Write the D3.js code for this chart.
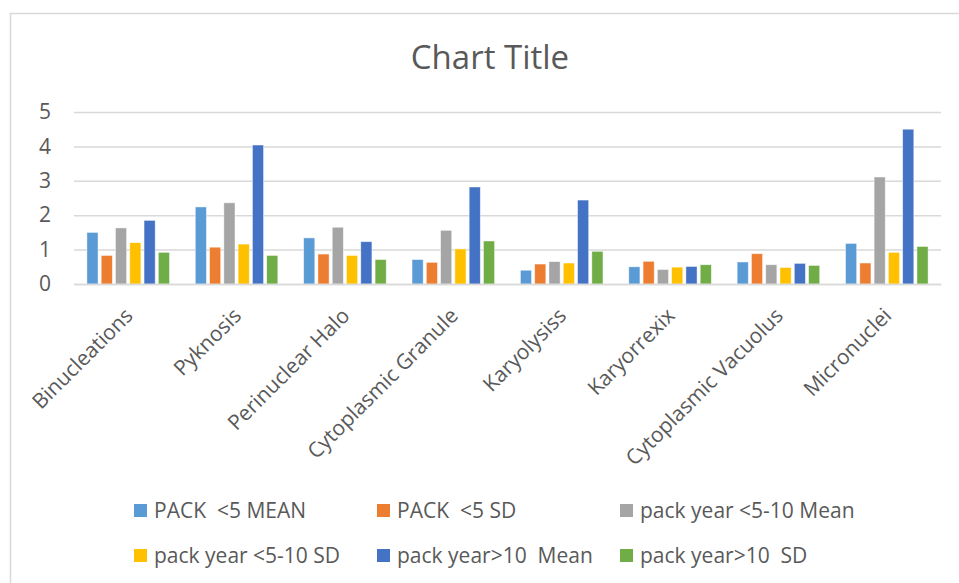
<!DOCTYPE html>
<html><head><meta charset="utf-8">
<script src="https://cdn.jsdelivr.net/npm/d3@7"></script>
<style>body{margin:0;background:#fff}svg{display:block;font-family:"Open Sans",sans-serif}</style>
</head><body><svg id="c" width="959" height="583"></svg>
<script>
const categories = ["Binucleations","Pyknosis","Perinuclear Halo","Cytoplasmic Granule","Karyolysiss","Karyorrexix","Cytoplasmic Vacuolus","Micronuclei"];
const seriesNames = ["PACK  <5 MEAN","PACK  <5 SD","pack year <5-10 Mean","pack year <5-10 SD","pack year>10  Mean","pack year>10  SD"];
const colors = ["#5B9BD5","#ED7D31","#A5A5A5","#FFC000","#4472C4","#70AD47"];
const packLt5Mean   = [1.50,2.24,1.34,0.71,0.40,0.50,0.64,1.18];
const packLt5SD     = [0.83,1.07,0.87,0.63,0.58,0.66,0.88,0.61];
const pack5to10Mean = [1.63,2.36,1.65,1.56,0.65,0.42,0.56,3.11];
const pack5to10SD   = [1.20,1.16,0.83,1.02,0.61,0.49,0.48,0.92];
const packGt10Mean  = [1.85,4.04,1.23,2.82,2.44,0.51,0.60,4.50];
const packGt10SD    = [0.92,0.83,0.71,1.25,0.95,0.56,0.54,1.09];
const yTicks = [0,1,2,3,4,5];
const seriesValues = [packLt5Mean,packLt5SD,pack5to10Mean,pack5to10SD,packGt10Mean,packGt10SD];

const svg = d3.select("#c");
const textColor = "#595959";
const fontSize = "21px";
svg.append("rect").attr("x",10.5).attr("y",13.5).attr("width",960).attr("height",580)
  .attr("fill","#fff").attr("stroke","#d9d9d9").attr("stroke-width",1.5);

const x0 = d3.scaleBand().domain(categories).range([74,941]).paddingInner(0.225).paddingOuter(0.1125);
const x1 = d3.scaleBand().domain(d3.range(seriesNames.length)).range([0,x0.bandwidth()]).paddingInner(0.22).paddingOuter(0.05);
const y = d3.scaleLinear().domain([0,5]).range([284,112]);

// gridlines + y labels
const yAxis = d3.axisLeft(y).tickValues(yTicks).tickFormat(d3.format("d")).tickSize(-(941-74)).tickPadding(23);
const gy = svg.append("g").attr("transform","translate(74,0)").call(yAxis);
gy.select(".domain").remove();
gy.selectAll(".tick line").attr("stroke","#d9d9d9").attr("stroke-width",1.5);
gy.selectAll(".tick text").attr("fill",textColor).style("font-size",fontSize).style("font-family","'Open Sans',sans-serif");

// bars
const groups = svg.append("g").selectAll("g").data(categories).join("g")
  .attr("transform",d=>`translate(${x0(d)},0)`);
groups.selectAll("rect").data((d,i)=>seriesValues.map((s,k)=>({k,v:s[i]}))).join("rect")
  .attr("x",d=>x1(d.k)).attr("width",x1.bandwidth())
  .attr("y",d=>y(d.v)).attr("height",d=>y(0)-y(d.v))
  .attr("fill",d=>colors[d.k]).attr("stroke","#fff").attr("stroke-opacity",0.6).attr("stroke-width",0.75);

// x axis
const xAxis = d3.axisBottom(x0).tickSize(0).tickPadding(0);
const gx = svg.append("g").attr("transform","translate(0,284)").call(xAxis);
gx.select(".domain").attr("stroke","#d9d9d9").attr("stroke-width",1.5);
gx.selectAll(".tick text").attr("fill",textColor).style("font-size",fontSize).style("font-family","'Open Sans',sans-serif")
  .attr("text-anchor","end").attr("dy",null).attr("y",0)
  .attr("transform","translate(6,33) rotate(-45)");

// title
svg.append("text").attr("x",490).attr("y",69).attr("text-anchor","middle")
  .attr("fill",textColor).style("font-size","33px").text("Chart Title");

// legend
const legCols = [134,377,620];
const legRows = [510.5,555.5];
const leg = svg.append("g").selectAll("g").data(seriesNames).join("g")
  .attr("transform",(d,i)=>`translate(${legCols[i%3]},${legRows[Math.floor(i/3)]})`);
leg.append("rect").attr("x",0).attr("y",-6.5).attr("width",13).attr("height",13).attr("fill",(d,i)=>colors[i]);
leg.append("text").attr("x",20).attr("y",0).attr("dy","0.36em").attr("fill",textColor)
  .style("font-size",fontSize).style("white-space","pre").text(d=>d);
</script></body></html>
